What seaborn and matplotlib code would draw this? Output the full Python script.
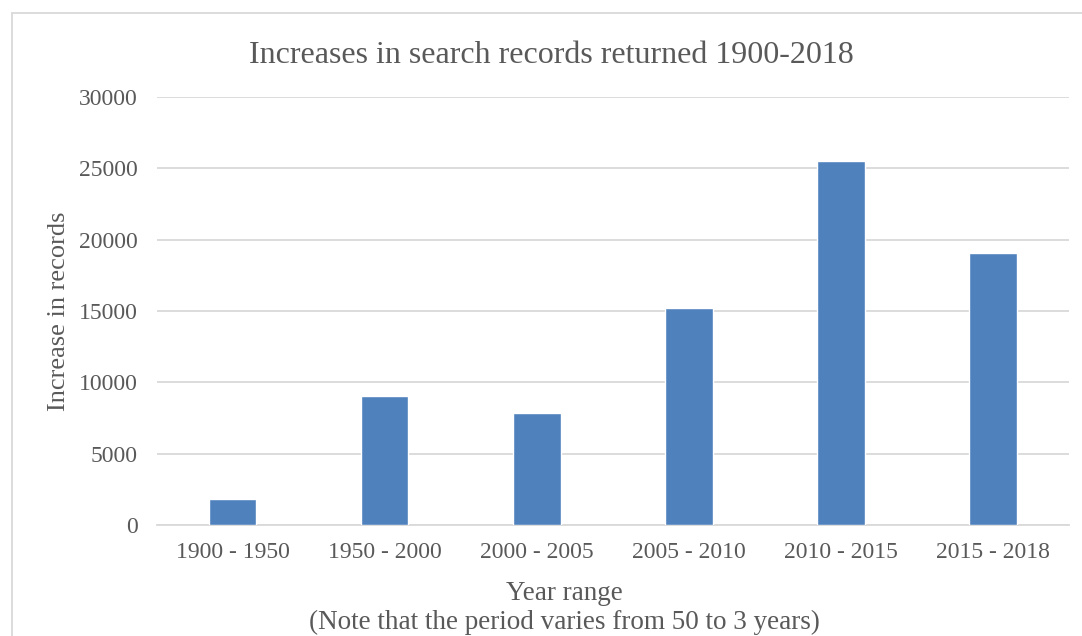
import matplotlib; matplotlib.use('Agg')
import pandas as pd
import seaborn as sns
import matplotlib.pyplot as plt
from matplotlib.lines import Line2D

# data
year_ranges = ['1900 - 1950', '1950 - 2000', '2000 - 2005', '2005 - 2010', '2010 - 2015', '2015 - 2018']
increases = [1850, 9050, 7850, 15200, 25500, 19100]
y_ticks = [0, 5000, 10000, 15000, 20000, 25000, 30000]

df = pd.DataFrame({'range': year_ranges, 'increase': increases})

sns.set_style('white')
plt.rcParams['font.family'] = ['Liberation Serif', 'DejaVu Serif']

text_col = '#595959'
grid_col = '#D9D9D9'

fig = plt.figure(figsize=(10.82, 6.36), dpi=100)
ax = fig.add_axes([0.145, 0.1745, 0.843, 0.673])

sns.barplot(data=df, x='range', y='increase', color='#4F81BD', width=0.31,
            saturation=1, ax=ax, zorder=3)

ax.set_ylim(0, 30000)
ax.set_yticks(y_ticks)
ax.set_yticklabels([str(t) for t in y_ticks])
ax.yaxis.grid(True, color=grid_col, linewidth=1.3, zorder=0)
ax.set_axisbelow(True)
for s in ['top', 'right', 'left']:
    ax.spines[s].set_visible(False)
ax.spines['bottom'].set_color(grid_col)
ax.spines['bottom'].set_linewidth(1.3)
ax.tick_params(axis='both', length=0, labelsize=17, labelcolor=text_col)
ax.tick_params(axis='y', pad=14)
ax.tick_params(axis='x', pad=12)

ax.set_ylabel('Increase in records', fontsize=19, color=text_col)
ax.yaxis.set_label_coords(-0.095, 0.5)
ax.set_xlabel('Year range\n(Note that the period varies from 50 to 3 years)',
              fontsize=19.5, color=text_col, linespacing=1.2)
ax.xaxis.set_label_coords(0.447, -0.131)

fig.text(0.51, 0.913, 'Increases in search records returned 1900-2018',
         ha='center', va='center', fontsize=23, color=text_col)

# chart area frame (left and top edges visible)
fig.add_artist(Line2D([0.011, 0.011], [0, 0.98], transform=fig.transFigure, color=grid_col, lw=1.3))
fig.add_artist(Line2D([0.011, 1.0], [0.98, 0.98], transform=fig.transFigure, color=grid_col, lw=1.3))

fig.savefig('out.png', dpi=100)
